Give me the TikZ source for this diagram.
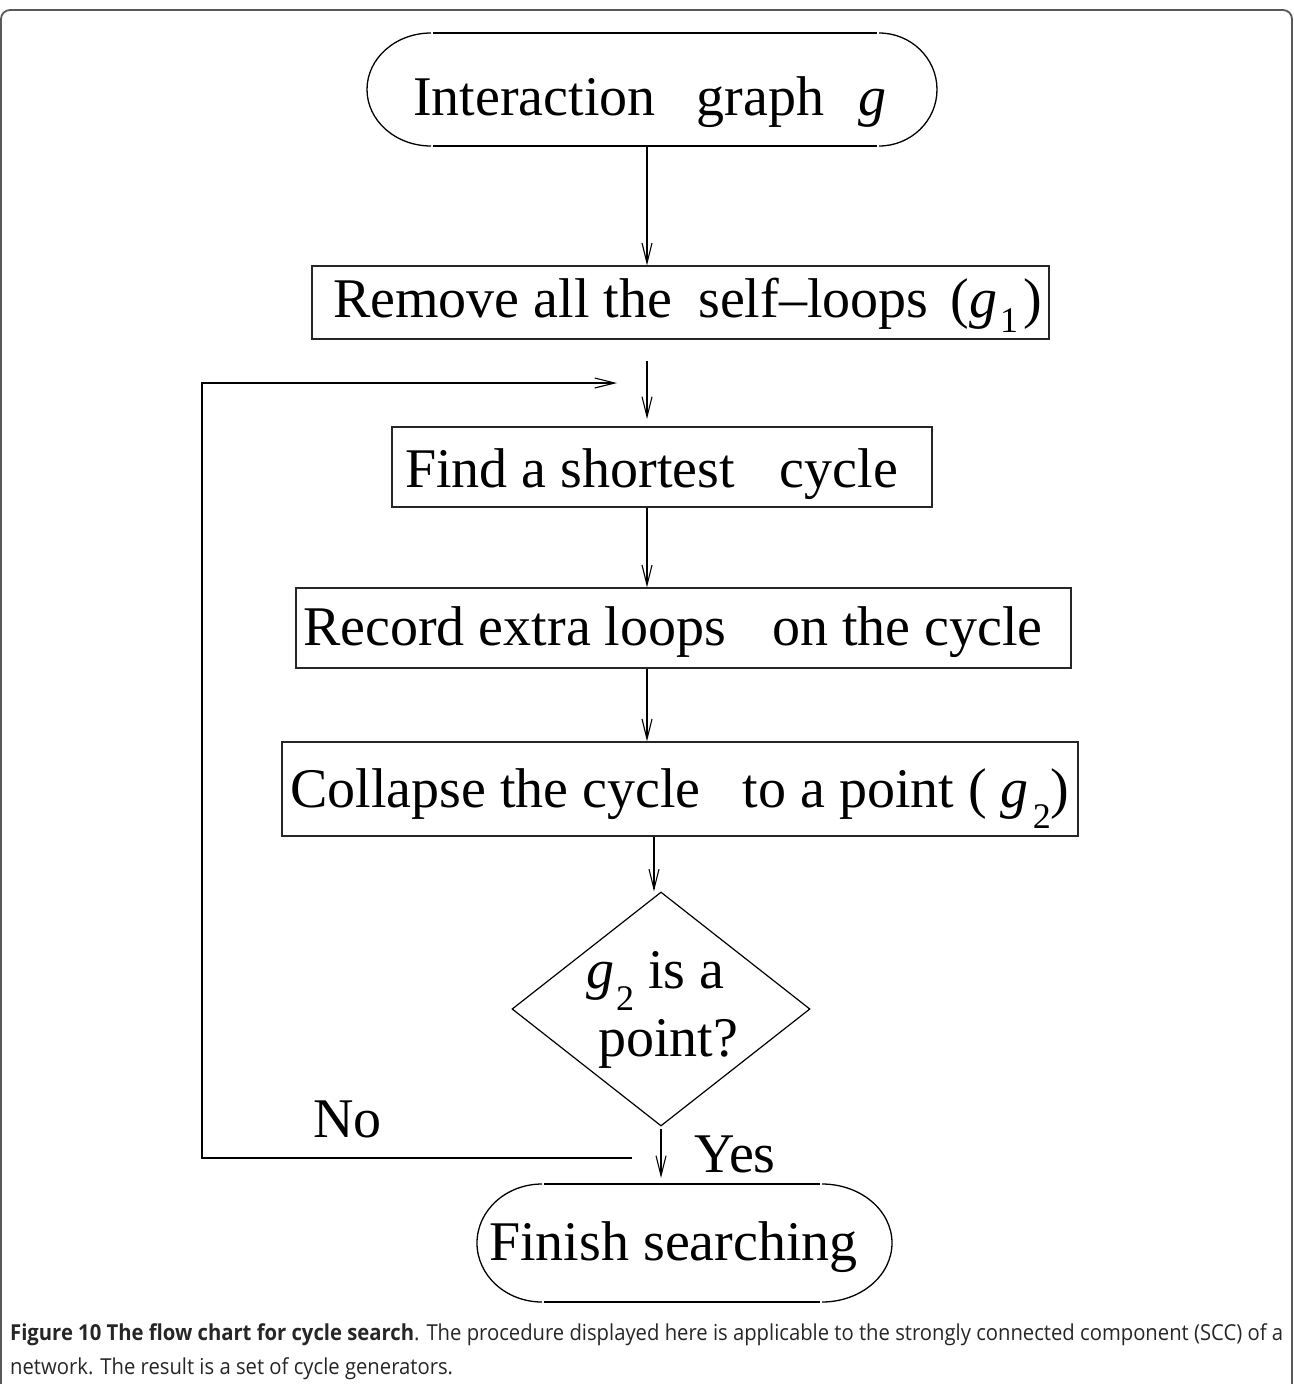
\documentclass[tikz,border=0pt]{standalone}
\usepackage{fontspec}
\usepackage{graphicx}
\setmainfont{Liberation Serif}
\newfontfamily\capfont{Open Sans}
\usetikzlibrary{arrows.meta,shapes.geometric}
\newcommand\subdig[2]{\raisebox{-#2}{\fontsize{36}{36}\selectfont #1}}
\begin{document}
\begin{tikzpicture}[x=1pt,y=-1pt,
  arr/.style={line width=2.2pt, line join=miter, -{Straight Barb[length=20pt,width=10pt,line width=1.1pt]}},
  box/.style={draw=black!85, line width=1.4pt, inner sep=0pt, rectangle},
  holder/.style={inner sep=0pt, rectangle},
  txt/.style={inner sep=0pt, anchor=base west, font=\fontsize{56}{67}\selectfont},
  outl/.style={draw=black, line width=1.3pt}]
\useasboundingbox (0,0) rectangle (1293,1384);
\begin{scope}
  \clip (0,0) rectangle (1293,1384);
  \draw[black!65, line width=1.8pt, rounded corners=9pt] (1,10) rectangle (1292,1440);
\end{scope}

% start terminal
\node[holder, minimum width=570pt, minimum height=113pt] (start) at (652,89.5) {};
\draw[outl] (433,33) -- (877,33);
\draw[outl] (433,146) -- (877,146);
\draw[outl] (431,33) arc[start angle=90, end angle=270, x radius=64pt, y radius=56.5pt];
\draw[outl] (879,33) arc[start angle=90, end angle=-90, x radius=58pt, y radius=56.5pt];
\node[txt] (t1) at (413,115) {Interaction\hspace{41pt}graph\hspace{34pt}\textit{g}};

% boxes
\node[box, minimum width=737pt, minimum height=73pt] (b2) at (680.5,302.5) {};
\node[txt] (t2) at (333,317) {Remove all the\hspace{26pt}self–loops\hspace{22pt}(\textit{g}\hspace{3pt}\subdig{1}{15pt}\hspace{5pt})};
\node[box, minimum width=540pt, minimum height=80pt] (b3) at (662,467) {};
\node[txt] (t3) at (405,487) {Find a shortest\hspace{45pt}cycle};
\node[box, minimum width=775pt, minimum height=80pt] (b4) at (683.5,628) {};
\node[txt] (t4) at (303,645) {Record extra loops\hspace{46pt}on the cycle};
\node[box, minimum width=796pt, minimum height=94pt] (b5) at (680,789) {};
\node[txt] (t5) at (290,807) {Collapse the cycle\hspace{42pt}to a point ( \textit{g}\hspace{4pt}\subdig{2}{21pt})};

% decision
\node[draw=black, line width=1.2pt, diamond, aspect=1.27, inner sep=0pt, minimum width=298pt, minimum height=234pt] (dia) at (661,1009) {};
\node[txt] (d1) at (586,988) {\begin{tabular}[t]{@{}l@{}}\textit{g}\hspace{2pt}\subdig{2}{22pt} is a\\\hspace{12pt}point?\end{tabular}};

% finish terminal
\node[holder, minimum width=415pt, minimum height=118pt] (fin) at (684.5,1243) {};
\draw[outl] (544,1184) -- (820,1184);
\draw[outl] (544,1302) -- (820,1302);
\draw[outl] (542,1184) arc[start angle=90, end angle=270, x radius=65pt, y radius=59pt];
\draw[outl] (822,1184) arc[start angle=90, end angle=-90, x radius=70pt, y radius=59pt];
\node[txt] (t7) at (489,1260) {Finish searching};

\node[txt] (no) at (313,1137) {No};
\node[txt] (yes) at (694,1172) {Yes};

% connectors
\coordinate (ax) at (647,0);
\coordinate (ax5) at (654,0);
\coordinate (a2s) at (647,361);
\coordinate (a2e) at (647,419);
\coordinate (a6e) at (661,1178);
\coordinate (lp0) at (632,1158);
\coordinate (lp1) at (202,1158);
\coordinate (lp2) at (202,383);
\coordinate (lp3) at (617,383);
\draw[arr] (start.south -| ax) -- (b2.north -| ax);
\draw[arr] (a2s) -- (a2e);
\draw[arr] (b3.south -| ax) -- (b4.north -| ax);
\draw[arr] (b4.south -| ax) -- (b5.north -| ax);
\draw[arr] (b5.south -| ax5) -- (dia.north -| ax5);
\draw[arr] ([yshift=-2pt]dia.south) -- (a6e);
\draw[arr] (lp0) -- (lp1) -- (lp2) -- (lp3);

% caption
\node[anchor=base west, inner sep=0pt, font=\capfont\fontsize{22}{34}\selectfont, text=black!85] (cap) at (10,1340)
 {\resizebox{1273pt}{\height}{\begin{tabular}[t]{@{}l@{}}\textbf{Figure 10 The flow chart for cycle search}. The procedure displayed here is applicable to the strongly connected component (SCC) of a\\ network. The result is a set of cycle generators.\end{tabular}}};
\end{tikzpicture}
\end{document}
